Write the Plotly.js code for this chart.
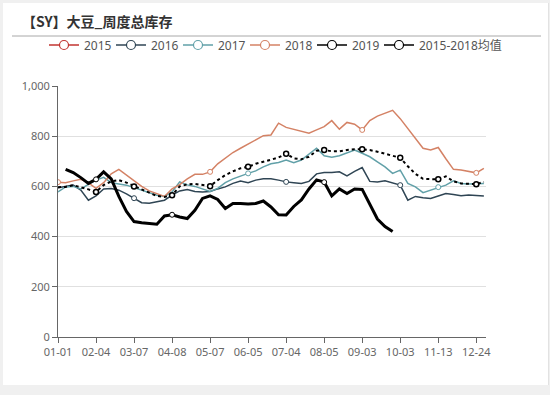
<!DOCTYPE html>
<html>
<head>
<meta charset="utf-8">
<script src="https://cdn.plot.ly/plotly-3.0.1.min.js"></script>
<style>
html,body{margin:0;padding:0;background:#f0f0f0;width:550px;height:395px;overflow:hidden;}
#card{position:absolute;left:3px;top:3px;width:545px;height:382px;background:#fff;border-right:1px solid #e2e2e2;}
#chart{position:absolute;left:0;top:0;width:550px;height:395px;}
</style>
</head>
<body>
<div id="card"></div>
<div id="chart"></div>
<script>
// Category axis (weekly dates)
const weeks = ['01-01','01-08','01-15','01-21','01-28','02-04','02-11','02-18','02-25','03-01',
  '03-07','03-14','03-21','03-28','04-01','04-08','04-15','04-22','04-29','05-01',
  '05-07','05-14','05-21','05-28','06-01','06-05','06-12','06-19','06-26','07-01',
  '07-04','07-11','07-18','07-25','08-01','08-05','08-12','08-19','08-26','09-01',
  '09-03','09-10','09-17','09-24','10-01','10-03','10-10','10-17','10-24','10-31',
  '11-13','11-20','11-27','12-04','12-11','12-24','12-31'];
const tickLabels = ['01-01','02-04','03-07','04-08','05-07','06-05','07-04','08-05','09-03','10-03','11-13','12-24'];
const yTicks = [0,200,400,600,800,1000];

const y2015 = [];
const y2016 = [595,600,605,585,545,562,590,592,585,570,553,535,533,538,545,565,582,588,580,578,
  580,590,598,612,621,615,625,630,630,625,618,615,612,620,650,655,655,658,642,660,
  675,620,618,622,612,605,545,560,555,552,562,572,568,563,566,563,562];
const y2017 = [578,598,600,590,608,625,636,615,610,605,595,585,575,565,560,578,618,606,600,590,
  580,592,615,630,642,652,662,678,690,695,705,694,705,730,752,722,716,722,735,745,
  732,718,698,678,652,665,612,598,575,585,597,605,622,612,610,610,612];
const y2018 = [617,615,622,628,614,592,615,650,668,645,625,600,582,572,560,590,607,630,648,648,
  658,690,712,735,752,768,785,802,805,852,835,828,818,812,825,838,862,828,855,848,
  825,862,880,892,903,870,830,790,752,745,755,710,668,665,660,654,672];
const y2019 = [null,668,655,635,612,628,658,630,560,500,460,455,452,449,482,487,478,472,505,552,
  562,548,512,532,532,530,532,542,518,487,486,520,546,590,626,617,562,590,572,590,
  588,530,470,440,420];
const yAvg = [597,598,605,598,588,578,605,620,625,615,600,588,575,562,558,565,600,608,610,605,
  601,625,645,660,672,678,690,698,705,715,730,712,708,718,742,745,740,740,745,748,
  748,745,738,730,725,714,680,650,630,628,628,640,620,612,612,609,618];

// category positions where each series shows its symbol
const symbolAt = {
  '2015': [],
  '2016': ['03-07','07-04','10-03'],
  '2017': ['06-05','11-13'],
  '2018': ['01-01','05-07','09-03','12-24'],
  '2019': ['02-04','04-08','08-05'],
  '2015-2018均值': ['02-04','03-07','04-08','05-07','06-05','07-04','08-05','09-03','10-03','11-13','12-24']
};

const series = [
  {name:'2015', y:y2015, color:'#c23531', width:1.5, dash:'solid', mlw:1},
  {name:'2016', y:y2016, color:'#2f4554', width:1.5, dash:'solid', mlw:1},
  {name:'2017', y:y2017, color:'#61a0a8', width:1.5, dash:'solid', mlw:1},
  {name:'2018', y:y2018, color:'#d48265', width:1.5, dash:'solid', mlw:1},
  {name:'2019', y:y2019, color:'#000000', width:3, dash:'solid', mlw:1},
  {name:'2015-2018均值', y:yAvg, color:'#000000', width:2, dash:'dot', mlw:1.5}
];

const traces = [];
// legend entries
series.forEach((s, k) => {
  const t = {x:[null], y:[null], type:'scatter', mode:'lines+markers', name:s.name,
    line:{color:s.color, width: Math.min(s.width,1.5), dash:'solid'},
    marker:{symbol:'circle', size:9, color:'#fff', line:{color:s.color, width:1.2}},
    showlegend:true, hoverinfo:'skip'};
  if (k < 5) t.legendwidth = 22;
  traces.push(t);
});
// lines, drawn order: 2015, 2016, 2017, 2018, avg, 2019
const drawOrder = [0,1,2,3,5,4];
drawOrder.forEach(k => {
  const s = series[k];
  traces.push({x: weeks.slice(0, s.y.length), y: s.y, type:'scatter', mode:'lines', name:s.name,
    line:{color:s.color, width:s.width, dash:s.dash}, connectgaps:false, showlegend:false, hoverinfo:'skip'});
});
// symbols
drawOrder.forEach(k => {
  const s = series[k];
  const mx = [], my = [];
  symbolAt[s.name].forEach(lab => {
    const i = weeks.indexOf(lab);
    if (i >= 0 && s.y[i] != null) { mx.push(lab); my.push(s.y[i]); }
  });
  traces.push({x: mx, y: my, type:'scatter', mode:'markers', name:s.name,
    marker:{symbol:'circle', size:5, color:'#fff', line:{color:s.color, width:s.mlw}},
    showlegend:false, hoverinfo:'skip'});
});

const plotL = 58, plotR = 486, plotT = 86, plotB = 337;
const pw = plotR - plotL, ph = plotB - plotT;

const layout = {
  width:550, height:395,
  margin:{l:plotL, r:550-plotR, t:plotT, b:395-plotB, pad:0, autoexpand:false},
  paper_bgcolor:'rgba(0,0,0,0)', plot_bgcolor:'rgba(0,0,0,0)',
  font:{family:'Noto Sans, Noto Sans CJK SC, sans-serif', color:'#666'},
  title:{text:'【SY】大豆_周度总库存', xref:'container', yref:'container', x:22/550, xanchor:'left',
    y:1-22/395, yanchor:'middle', font:{family:'Noto Sans CJK SC', size:14, color:'#333', weight:'bold'}},
  xaxis:{type:'category', categoryorder:'array', categoryarray:weeks, range:[0,56.28],
    tickmode:'array', tickvals:tickLabels, ticktext:tickLabels, ticks:'outside', ticklen:5, tickcolor:'#666',
    showline:true, linecolor:'#666', linewidth:1, showgrid:false, zeroline:false,
    tickfont:{size:11, color:'#666'}},
  yaxis:{range:[0,1000], tickmode:'array', tickvals:yTicks, tickformat:',', ticks:'outside', ticklen:5,
    tickcolor:'#666', showline:true, linecolor:'#666', linewidth:1, gridcolor:'#e0e0e0', zeroline:false,
    tickfont:{size:11, color:'#666'}},
  legend:{orientation:'h', xref:'paper', yref:'paper', x:(44-plotL)/pw, xanchor:'left',
    y:1+(plotT-45)/ph, yanchor:'middle',
    font:{size:12, color:'#555'}, bgcolor:'rgba(0,0,0,0)', traceorder:'normal', itemwidth:30},
  shapes:[{type:'line', xref:'paper', yref:'paper', x0:(12-plotL)/pw, x1:(541-plotL)/pw,
    y0:1+(plotT-36)/ph, y1:1+(plotT-36)/ph, line:{color:'#a8a8a8', width:1}}],
  showlegend:true
};

Plotly.newPlot('chart', traces, layout, {staticPlot:true, displayModeBar:false});
</script>
</body>
</html>
